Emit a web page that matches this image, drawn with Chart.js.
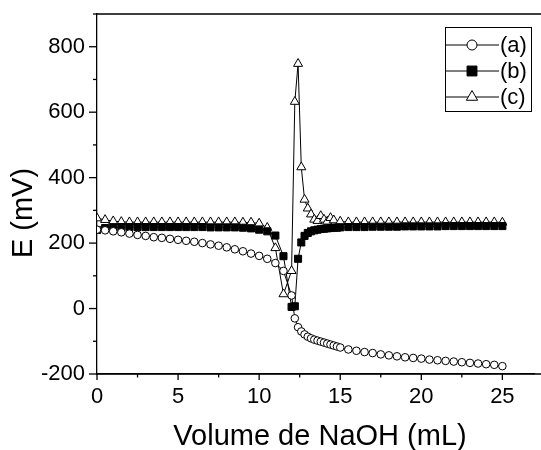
<!DOCTYPE html>
<html>
<head>
<meta charset="utf-8">
<script src="https://cdn.jsdelivr.net/npm/chart.js@4"></script>
<style>
  html, body { margin: 0; padding: 0; background: #fff; overflow: hidden; }
  #wrap { width: 541px; height: 450px; }
</style>
</head>
<body>
<div id="wrap"><canvas id="grafico" width="541" height="450"></canvas></div>
<script>
// Curva (a) - circulos abertos
const volumeA = [0, 0.5, 1, 1.5, 2, 2.5, 3, 3.5, 4, 4.5, 5, 5.5, 6, 6.5, 7, 7.5, 8, 8.5, 9, 9.5, 10, 10.5, 11, 11.5,
  12.0, 12.2, 12.4, 12.6, 12.8, 13.0, 13.2, 13.4, 13.6, 13.8, 14.0, 14.2, 14.4, 14.6, 14.8, 15.0,
  15.5, 16, 16.5, 17, 17.5, 18, 18.5, 19, 19.5, 20, 20.5, 21, 21.5, 22, 22.5, 23, 23.5, 24, 24.5, 25];
const potencialA = [241, 239, 236, 233, 229, 225, 222, 218, 216, 213, 210, 207, 204, 200, 196, 192, 187, 181, 175, 168, 161, 152, 139, 115,
  40, -30, -57, -70, -79, -86, -91, -95, -98, -101, -104, -107, -110, -113, -116, -119,
  -125, -129, -133, -136, -140, -143, -146, -149, -151, -153, -156, -158, -160, -162, -164, -166, -168, -170, -172, -176];

// Curva (b) - quadrados cheios
const volumeB = [0, 0.5, 1, 1.5, 2, 2.5, 3, 3.5, 4, 4.5, 5, 5.5, 6, 6.5, 7, 7.5, 8, 8.5, 9, 9.5, 10, 10.5, 11, 11.5,
  12.0, 12.2, 12.4, 12.6, 12.8, 13.0, 13.2, 13.4, 13.6, 13.8, 14.0, 14.2, 14.4, 14.6, 14.8, 15.0,
  15.5, 16, 16.5, 17, 17.5, 18, 18.5, 19, 19.5, 20, 20.5, 21, 21.5, 22, 22.5, 23, 23.5, 24, 24.5, 25];
const potencialB = [240, 246, 248, 249, 249, 249, 249, 249, 249, 249, 249, 249, 249, 249, 248, 248, 248, 248, 247, 245, 241, 236, 223, 160,
  5, 7, 152, 202, 222, 231, 236, 239, 241, 243, 244, 245, 246, 247, 247, 248,
  249, 249, 249, 250, 250, 250, 250, 251, 251, 251, 251, 251, 252, 252, 252, 252, 252, 252, 252, 252];

// Curva (c) - triangulos abertos
const volumeC = [0, 0.5, 1, 1.5, 2, 2.5, 3, 3.5, 4, 4.5, 5, 5.5, 6, 6.5, 7, 7.5, 8, 8.5, 9, 9.5, 10, 10.5, 11, 11.5,
  12.0, 12.2, 12.4, 12.6, 12.8, 13.0, 13.2, 13.4, 13.6, 13.8, 14.0, 14.2, 14.4, 14.6, 15.0,
  15.5, 16, 16.5, 17, 17.5, 18, 18.5, 19, 19.5, 20, 20.5, 21, 21.5, 22, 22.5, 23, 23.5, 24, 24.5, 25];
const potencialC = [276, 271, 267, 265, 264, 264, 264, 264, 264, 264, 264, 264, 264, 264, 264, 264, 264, 264, 263, 263, 260, 247, 185, 44,
  115, 632, 748, 432, 333, 306, 288, 272, 268, 283, 272, 266, 277, 270, 266,
  264, 264, 264, 264, 264, 264, 264, 264, 264, 264, 264, 264, 264, 264, 264, 264, 264, 264, 264, 263];

const rotulos = ["(a)", "(b)", "(c)"];
const ticksX = [0, 5, 10, 15, 20, 25];
const ticksXMenores = [0, 2.5, 5, 7.5, 10, 12.5, 15, 17.5, 20, 22.5, 25];
const ticksY = [-200, 0, 200, 400, 600, 800];

function pontos(xs, ys) {
  return xs.map((x, i) => ({ x: x, y: ys[i] }));
}

const fonte = "'Liberation Sans', Arial, sans-serif";

// desenha os tracos dos eixos (maiores e menores), titulos, bordas e legenda
const extras = {
  id: 'extras',
  afterDraw(chart) {
    const ctx = chart.ctx;
    const area = chart.chartArea;
    const sx = chart.scales.x;
    const sy = chart.scales.y;
    ctx.save();
    ctx.strokeStyle = '#000';
    ctx.lineWidth = 1.3;

    // borda de cima e eixo de baixo ate a margem
    ctx.beginPath();
    ctx.moveTo(area.left, area.top);
    ctx.lineTo(541, area.top);
    ctx.moveTo(area.left, area.bottom);
    ctx.lineTo(541, area.bottom);
    ctx.stroke();

    // tracos do eixo x
    sx.ticks.forEach(t => {
      const px = sx.getPixelForValue(t.value);
      const len = ticksX.includes(t.value) ? 6 : 3.5;
      ctx.beginPath();
      ctx.moveTo(px, area.bottom);
      ctx.lineTo(px, area.bottom + len);
      ctx.stroke();
    });
    // tracos do eixo y
    sy.ticks.forEach(t => {
      const py = sy.getPixelForValue(t.value);
      const len = ticksY.includes(t.value) ? 8 : 4;
      ctx.beginPath();
      ctx.moveTo(area.left, py);
      ctx.lineTo(area.left - len, py);
      ctx.stroke();
    });

    // titulos dos eixos
    ctx.fillStyle = '#000';
    ctx.font = "29px " + fonte;
    ctx.textAlign = 'center';
    ctx.textBaseline = 'alphabetic';
    ctx.fillText("Volume de NaOH (mL)", 320, 445);
    ctx.save();
    ctx.translate(32, 213);
    ctx.rotate(-Math.PI / 2);
    ctx.fillText("E (mV)", 0, 0);
    ctx.restore();

    // legenda
    ctx.lineWidth = 1;
    ctx.strokeRect(445.5, 27.5, 86, 84);
    const linhas = [45, 71, 97];
    const tamanhos = [5, 7, 6.5];
    ctx.font = "22px " + fonte;
    ctx.textAlign = 'left';
    ctx.textBaseline = 'middle';
    chart.data.datasets.forEach((ds, i) => {
      const y = linhas[i];
      ctx.strokeStyle = '#000';
      ctx.lineWidth = 1;
      ctx.beginPath();
      ctx.moveTo(445, y);
      ctx.lineTo(499, y);
      ctx.stroke();
      ctx.fillStyle = ds.pointBackgroundColor;
      ctx.strokeStyle = '#000';
      Chart.helpers.drawPoint(ctx, {
        pointStyle: ds.pointStyle,
        radius: tamanhos[i],
        rotation: 0,
        borderWidth: 1
      }, 472, y);
      ctx.fillStyle = '#000';
      ctx.fillText(rotulos[i], 500, y + 1);
    });
    ctx.restore();
  }
};

const ctx = document.getElementById("grafico").getContext("2d");

const grafico = new Chart(ctx, {
  type: 'line',
  data: {
    datasets: [
      {
        label: rotulos[0],
        data: pontos(volumeA, potencialA),
        borderColor: '#000',
        borderWidth: 1,
        pointStyle: 'circle',
        pointRadius: 3.8,
        pointBorderWidth: 1,
        pointBorderColor: '#000',
        pointBackgroundColor: '#fff'
      },
      {
        label: rotulos[1],
        data: pontos(volumeB, potencialB),
        borderColor: '#000',
        borderWidth: 1,
        pointStyle: 'rect',
        pointRadius: 5,
        pointBorderWidth: 1,
        pointBorderColor: '#000',
        pointBackgroundColor: '#000'
      },
      {
        label: rotulos[2],
        data: pontos(volumeC, potencialC),
        borderColor: '#000',
        borderWidth: 1,
        pointStyle: 'triangle',
        pointRadius: 5.2,
        pointBorderWidth: 1,
        pointBorderColor: '#000',
        pointBackgroundColor: '#fff'
      }
    ]
  },
  options: {
    responsive: false,
    animation: false,
    devicePixelRatio: 1,
    layout: { padding: { top: 14, right: 0, left: 0, bottom: 0 } },
    plugins: {
      legend: { display: false },
      tooltip: { enabled: false }
    },
    elements: { line: { tension: 0 } },
    scales: {
      x: {
        type: 'linear',
        min: 0,
        max: 27,
        afterBuildTicks: function(scale) {
          scale.ticks = ticksXMenores.map(v => ({ value: v }));
        },
        afterFit: function(scale) {
          scale.height = 76;
          scale.paddingLeft = 0;
          scale.paddingRight = 0;
        },
        grid: { display: false, drawTicks: false },
        border: { display: true, color: '#000', width: 1.3 },
        ticks: {
          padding: 10,
          color: '#000',
          maxRotation: 0,
          autoSkip: false,
          font: { family: fonte, size: 22 },
          callback: function(v) { return ticksX.includes(v) ? String(v) : ''; }
        }
      },
      y: {
        type: 'linear',
        min: -200,
        max: 900,
        afterFit: function(scale) {
          scale.width = 97;
          scale.paddingTop = 0;
          scale.paddingBottom = 0;
        },
        grid: { display: false, drawTicks: false },
        border: { display: true, color: '#000', width: 1.3 },
        ticks: {
          stepSize: 100,
          padding: 12,
          color: '#000',
          autoSkip: false,
          font: { family: fonte, size: 22 },
          callback: function(v) { return ticksY.includes(v) ? String(v) : ''; }
        }
      }
    }
  },
  plugins: [extras]
});
</script>
</body>
</html>
